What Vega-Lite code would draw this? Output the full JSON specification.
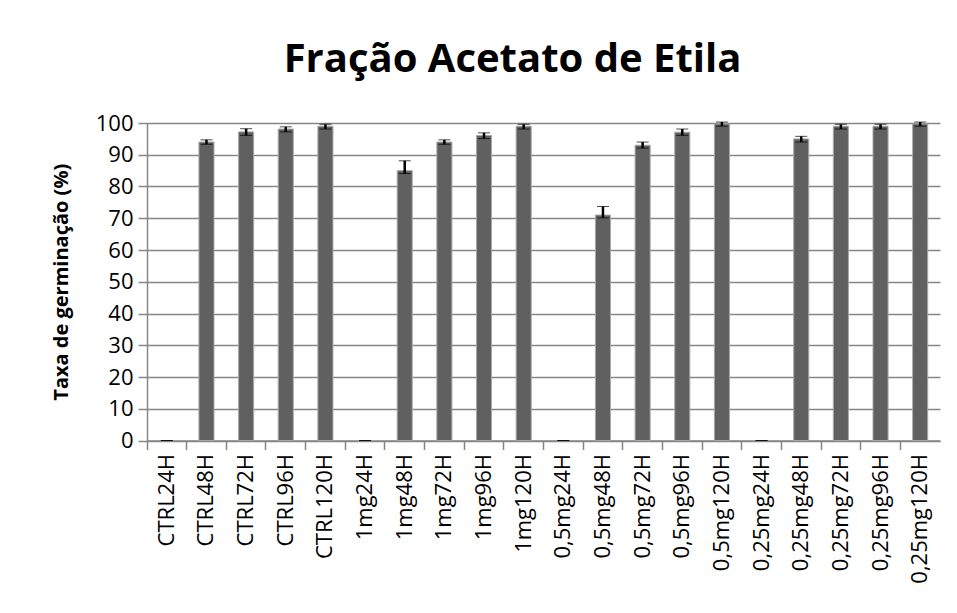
{
  "$schema": "https://vega.github.io/schema/vega-lite/v6.json",
  "autosize": {"type": "none"},
  "padding": {"left": 147, "top": 123, "right": 17, "bottom": 172},
  "width": 793,
  "height": 317.5,
  "background": "white",
  "title": {
    "text": "Fração Acetato de Etila",
    "font": "Open Sans",
    "fontSize": 40,
    "fontWeight": "bold",
    "color": "black",
    "anchor": "middle",
    "frame": "group",
    "dx": -31,
    "offset": 32
  },
  "data": {
    "values": [
      {"cat": "CTRL24H", "v": 0, "lo": 0, "hi": 0},
      {"cat": "CTRL48H", "v": 94.0, "lo": 93.3, "hi": 94.7},
      {"cat": "CTRL72H", "v": 97.2, "lo": 96.1, "hi": 98.2},
      {"cat": "CTRL96H", "v": 98.1, "lo": 97.2, "hi": 98.8},
      {"cat": "CTRL120H", "v": 99.0, "lo": 98.1, "hi": 99.6},
      {"cat": "1mg24H", "v": 0, "lo": 0, "hi": 0},
      {"cat": "1mg48H", "v": 85.0, "lo": 84.1, "hi": 88.1},
      {"cat": "1mg72H", "v": 94.0, "lo": 93.3, "hi": 94.7},
      {"cat": "1mg96H", "v": 96.1, "lo": 95.1, "hi": 96.9},
      {"cat": "1mg120H", "v": 99.0, "lo": 98.1, "hi": 99.6},
      {"cat": "0,5mg24H", "v": 0, "lo": 0, "hi": 0},
      {"cat": "0,5mg48H", "v": 71.0, "lo": 70.1, "hi": 73.7},
      {"cat": "0,5mg72H", "v": 93.0, "lo": 92.1, "hi": 94.0},
      {"cat": "0,5mg96H", "v": 97.1, "lo": 96.1, "hi": 98.1},
      {"cat": "0,5mg120H", "v": 99.7, "lo": 99.0, "hi": 100.3},
      {"cat": "0,25mg24H", "v": 0, "lo": 0, "hi": 0},
      {"cat": "0,25mg48H", "v": 95.0, "lo": 94.0, "hi": 95.8},
      {"cat": "0,25mg72H", "v": 99.0, "lo": 98.1, "hi": 99.6},
      {"cat": "0,25mg96H", "v": 99.0, "lo": 98.1, "hi": 99.6},
      {"cat": "0,25mg120H", "v": 99.7, "lo": 99.0, "hi": 100.3}
    ]
  },
  "config": {
    "view": {"stroke": null},
    "font": "Open Sans",
    "axisY": {
      "titleFont": "Open Sans",
      "titleFontSize": 20,
      "titleFontWeight": "bold",
      "titleColor": "black",
      "titlePadding": 24,
      "labelOverlap": false,
      "labelFont": "Open Sans",
      "labelFontSize": 22,
      "labelColor": "black",
      "labelPadding": 5,
      "tickSize": 9,
      "tickColor": "#868686",
      "tickWidth": 1.5,
      "domainColor": "#868686",
      "domainWidth": 1.5,
      "gridColor": "#868686",
      "gridWidth": 1.5
    }
  },
  "encoding": {
    "x": {
      "field": "cat",
      "type": "nominal",
      "sort": null,
      "scale": {"paddingInner": 0, "paddingOuter": 0},
      "axis": {
        "title": null,
        "bandPosition": 0,
        "labelAngle": -90,
        "labelFont": "Open Sans",
        "labelFontSize": 22,
        "labelColor": "black",
        "labelPadding": 4,
        "labelBaseline": "middle",
        "labelAlign": "right",
        "labelOverlap": false,
        "tickSize": 9,
        "tickColor": "#868686",
        "tickWidth": 1.5,
        "domainColor": "#868686",
        "domainWidth": 1.5,
        "grid": false
      }
    }
  },
  "layer": [
    {
      "mark": {"type": "bar", "width": {"band": 0.38}, "color": "#606060", "stroke": "#a8a8a8", "strokeWidth": 1},
      "encoding": {
        "y": {
          "field": "v",
          "type": "quantitative",
          "scale": {"domain": [0, 100], "nice": false},
          "axis": {
            "title": "Taxa de germinação (%)",
            "values": [0, 10, 20, 30, 40, 50, 60, 70, 80, 90, 100]
          }
        }
      }
    },
    {
      "mark": {"type": "errorbar", "ticks": {"size": 12, "color": "black", "strokeWidth": 2.5}, "rule": {"color": "black", "strokeWidth": 2.5}},
      "encoding": {
        "y": {
          "field": "lo",
          "type": "quantitative",
          "axis": {
            "title": "Taxa de germinação (%)",
            "values": [0, 10, 20, 30, 40, 50, 60, 70, 80, 90, 100]
          }
        },
        "y2": {"field": "hi"}
      }
    }
  ]
}
